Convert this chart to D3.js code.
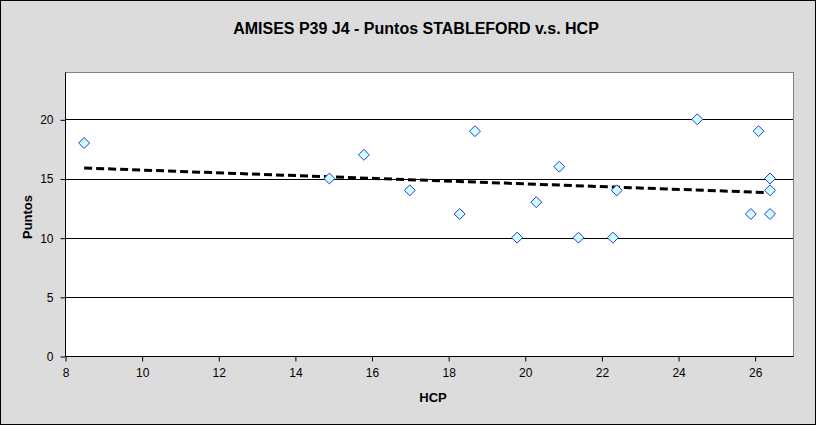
<!DOCTYPE html>
<html><head><meta charset="utf-8">
<script src="https://cdn.jsdelivr.net/npm/d3@7"></script>
<style>body{margin:0;background:#fff}svg{display:block}</style>
</head><body>
<svg id="c" width="816" height="425"></svg>
<script>
const title = "AMISES P39 J4 - Puntos STABLEFORD v.s. HCP";
const xLabel = "HCP";
const yLabel = "Puntos";
const hcp    = [8.5, 14.9, 15.8, 17.0, 18.3, 18.7, 19.8, 20.3, 20.9, 21.4, 22.3, 22.4, 24.5, 26.1, 25.9, 26.4, 26.4, 26.4];
const puntos = [18,  15,   17,   14,   12,   19,   10,   13,   16,   10,   10,   14,   20,   19,   12,   15,   14,   12];
const xTicks = [8, 10, 12, 14, 16, 18, 20, 22, 24, 26];
const yTicks = [0, 5, 10, 15, 20];

const svg = d3.select("#c");
const W = 816, H = 425;
const m = {l: 65, t: 72, r: 793, b: 356};
const FF = "Liberation Sans, Arial, sans-serif";

svg.append("rect").attr("x", 0.5).attr("y", 0.5).attr("width", W - 1).attr("height", H - 1)
  .attr("fill", "#dcdcdc").attr("stroke", "#000").attr("stroke-width", 1);

const x = d3.scaleLinear().domain([8, 27]).range([m.l, m.r]);
const y = d3.scaleLinear().domain([0, 24]).range([m.b, m.t]);

svg.append("rect").attr("x", m.l + 0.5).attr("y", m.t + 0.5).attr("width", m.r - m.l).attr("height", m.b - m.t)
  .attr("fill", "#fff").attr("stroke", "#808080").attr("stroke-width", 1);

// gridlines
svg.append("g").selectAll("line").data(yTicks.filter(d => d > 0)).join("line")
  .attr("x1", m.l).attr("x2", m.r).attr("y1", d => Math.round(y(d)) + 0.5).attr("y2", d => Math.round(y(d)) + 0.5)
  .attr("stroke", "#000").attr("stroke-width", 1);

// axes
const xAxis = d3.axisBottom(x).tickValues(xTicks).tickSize(5).tickPadding(7).tickFormat(d3.format("d"));
const gx = svg.append("g").attr("transform", `translate(0.5,${m.b + 0.5})`).call(xAxis);
const yAxis = d3.axisLeft(y).tickValues(yTicks).tickSize(5).tickPadding(7).tickFormat(d3.format("d"));
const gy = svg.append("g").attr("transform", `translate(${m.l + 0.5},0.5)`).call(yAxis);
[gx, gy].forEach(g => {
  g.select(".domain").attr("stroke", "#000");
  g.selectAll(".tick line").attr("stroke", "#000");
  g.selectAll(".tick text").attr("fill", "#000").attr("font-family", FF).attr("font-size", 12);
});
gx.select(".domain").attr("d", `M${m.l},0H${m.r}`);
gy.select(".domain").attr("d", `M0,${m.b}V${m.t}`);

// trendline (least squares)
const n = hcp.length;
const mx = d3.mean(hcp), my = d3.mean(puntos);
let sxy = 0, sxx = 0;
for (let i = 0; i < n; i++) { sxy += (hcp[i] - mx) * (puntos[i] - my); sxx += (hcp[i] - mx) ** 2; }
const slope = sxy / sxx, icpt = my - slope * mx;
const x0 = d3.min(hcp), x1 = d3.max(hcp);
svg.append("line")
  .attr("x1", x(x0)).attr("y1", y(icpt + slope * x0))
  .attr("x2", x(x1)).attr("y2", y(icpt + slope * x1))
  .attr("stroke", "#000").attr("stroke-width", 3).attr("stroke-dasharray", "8,4");

// points
const diamond = d3.symbol().type(d3.symbolDiamond2).size(76);
svg.append("g").selectAll("path").data(hcp.map((h, i) => [h, puntos[i]])).join("path")
  .attr("d", diamond)
  .attr("transform", d => `translate(${x(d[0])},${y(d[1])})`)
  .attr("fill", "#ccffff").attr("stroke", "#3333cc").attr("stroke-width", 1);

// titles
svg.append("text").attr("x", 416).attr("y", 34).attr("text-anchor", "middle")
  .attr("font-family", FF).attr("font-weight", "bold").attr("font-size", 16)
  .text(title);
svg.append("text").attr("x", 433).attr("y", 402).attr("text-anchor", "middle")
  .attr("font-family", FF).attr("font-weight", "bold").attr("font-size", 13)
  .text(xLabel);
svg.append("text").attr("transform", "translate(32,217) rotate(-90)").attr("text-anchor", "middle")
  .attr("font-family", FF).attr("font-weight", "bold").attr("font-size", 13)
  .text(yLabel);
</script>
</body></html>
